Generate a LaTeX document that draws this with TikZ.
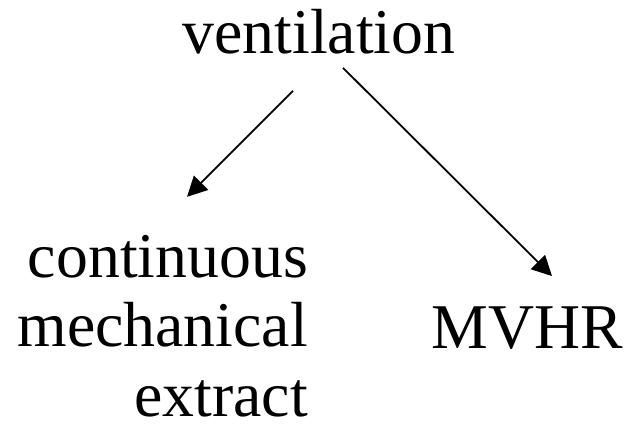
\documentclass[tikz,border=0pt]{standalone}
\usepackage{fontspec}
\setmainfont{Liberation Serif}
\usetikzlibrary{arrows.meta}

\tikzset{
  word/.style={inner sep=0pt, font=\fontsize{64}{69.5}\selectfont},
  link/.style={line width=1.8bp, -{Triangle[length=20bp,width=20bp]}}
}

\begin{document}
\begin{tikzpicture}[x=1bp,y=1bp]
  \useasboundingbox (0,0) rectangle (628,429);
  % words
  \node[word,anchor=base] (vent) at (319,376) {ventilation};
  \node[word,anchor=base east,align=right] (cme) at (308,13) {continuous\\mechanical\\extract};
  \node[word,anchor=base] (mvhr) at (527,81) {MVHR};
  % arrow ends
  \coordinate (l1) at ([xshift=-26bp,yshift=-37bp]vent.south);
  \coordinate (l2) at ([xshift=-132bp,yshift=-143bp]vent.south);
  \coordinate (r1) at ([xshift=24bp,yshift=-14bp]vent.south);
  \coordinate (r2) at ([xshift=25bp,yshift=30bp]mvhr.north);
  \draw[link] (l1) -- (l2);
  \draw[link] (r1) -- (r2);
\end{tikzpicture}
\end{document}
